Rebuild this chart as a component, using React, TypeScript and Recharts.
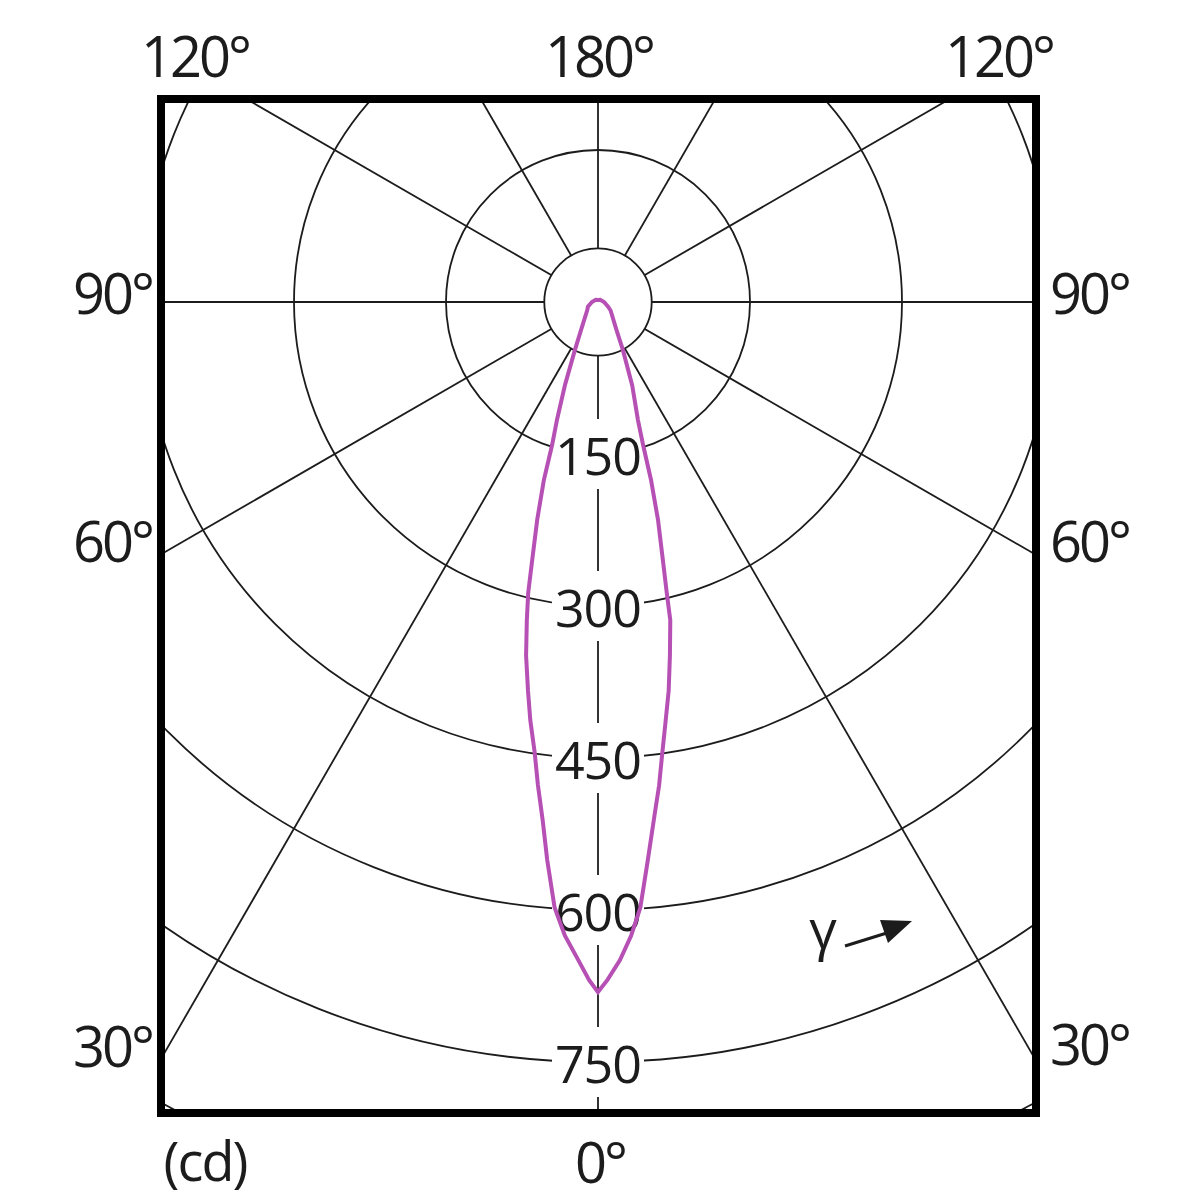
import React from "react"
import { RadarChart, Radar, PolarGrid, PolarAngleAxis, PolarRadiusAxis } from "recharts"

const gammaRight = [0, 0.8, 1.9, 3.0, 4.0, 5.1, 6.3, 7.2, 8.1, 9.2, 10.3, 11.5, 12.8, 13.3, 14.1, 15.4, 16.6, 17.5, 18.7, 22.3, 27.5, 33.5, 56, 65, 90, 135, 180]
const cdRight = [681, 669, 650, 626, 599, 553, 509, 481, 450, 418, 390, 356, 322, 295, 263, 223, 183, 148, 123, 89, 53, 33, 15, 11, 6, 3, 2]
const gammaLeft = [0.76, 1.7, 3.0, 4.1, 5.2, 6.1, 7.1, 8.0, 9.2, 10.2, 11.5, 12.6, 13.5, 14.3, 15.6, 16.9, 17.8, 19.2, 21.7, 25.6, 31.3, 54, 65, 90, 135]
const cdLeft = [669, 650, 626, 599, 553, 514, 480, 449, 418, 390, 356, 322, 295, 263, 223, 184, 148, 123, 88, 53, 32, 13, 11, 6, 3]

const ringValues = [0, 150, 300, 450, 600, 750, 900]
const ringLabels = [150, 300, 450, 600, 750]
const spokeAngles = [0, 30, 60, 90, 120, 150, 180, 210, 240, 270, 300, 330]
const hubValue = 53
const radialMax = 900

const topLabels = ["120°", "180°", "120°"]
const sideLabels = ["90°", "60°", "30°"]
const unitLabel = "(cd)"
const nadirLabel = "0°"
const gammaLabel = "γ"

// angle axis runs 0..360 clockwise from the bottom, left half mirrored
const lobeData = [
  ...gammaRight.map((g, i) => ({ angle: g, cd: cdRight[i] })),
  ...gammaLeft.map((g, i) => ({ angle: 360 - g, cd: cdLeft[i] })).reverse(),
]

const FONT = "'Open Sans', 'Noto Sans', sans-serif"
const INK = "#1c1c1c"
const LOBE = "#b650b4"

// inner area of the framed box
const BOX_W = 867
const BOX_H = 1006
const CX = 433
const CY = 199
const R_MAX = 912

const RadiusTick = (props: any) => {
  const { x, y, payload } = props
  if (!ringLabels.includes(payload.value)) return <g />
  return (
    <g>
      <rect x={x - 46} y={y - 35} width={92} height={70} fill="#fff" />
      <text
        x={x}
        y={y}
        textAnchor="middle"
        dominantBaseline="central"
        fontFamily={FONT}
        fontSize={52}
        letterSpacing={-1}
        fill={INK}
      >
        {payload.value}
      </text>
    </g>
  )
}

function Layer({ children, tick, showLobe }: { children?: React.ReactNode; tick?: any; showLobe?: boolean }) {
  return (
    <div style={{ position: "absolute", left: 0, top: 0 }}>
      <RadarChart
        width={BOX_W}
        height={BOX_H}
        data={lobeData}
        cx={CX}
        cy={CY}
        innerRadius={0}
        outerRadius={R_MAX}
        startAngle={-90}
        endAngle={270}
        margin={{ top: 0, right: 0, bottom: 0, left: 0 }}
      >
        <PolarAngleAxis
          type="number"
          dataKey="angle"
          domain={[0, 360]}
          tickCount={13}
          ticks={spokeAngles}
          tick={false}
          axisLine={false}
          tickLine={false}
        />
        <PolarRadiusAxis
          type="number"
          angle={-90}
          domain={[0, radialMax]}
          tickCount={7}
          ticks={ringValues}
          tick={tick ?? false}
          axisLine={false}
          tickLine={false}
        />
        {children}
        <Radar
          dataKey="cd"
          stroke={showLobe ? LOBE : "none"}
          strokeWidth={4}
          fill="none"
          fillOpacity={0}
          dot={false}
          isAnimationActive={false}
        />
      </RadarChart>
    </div>
  )
}

export default function App() {
  return (
    <div style={{ position: "relative", width: 1187, height: 1200, margin: -8, background: "#fff" }}>
      <div
        style={{
          position: "absolute",
          left: 157,
          top: 95,
          width: 883,
          height: 1022,
          border: "8px solid #000",
          boxSizing: "border-box",
        }}
      >
        <div style={{ position: "relative", width: BOX_W, height: BOX_H, overflow: "hidden" }}>
          <Layer>
            <PolarGrid gridType="circle" stroke={INK} strokeWidth={1.8} />
          </Layer>
          <Layer tick={<RadiusTick />}>
            <circle cx={CX} cy={CY} r={(hubValue * R_MAX) / radialMax} fill="#fff" stroke={INK} strokeWidth={1.8} />
          </Layer>
          <Layer showLobe />
        </div>
      </div>

      <svg
        width={1187}
        height={1200}
        style={{ position: "absolute", left: 0, top: 0, pointerEvents: "none" }}
        fontFamily={FONT}
        fill={INK}
      >
        {topLabels.map((t, i) => (
          <text key={"t" + i} x={[195, 599, 999][i]} y={55} textAnchor="middle" dominantBaseline="central" fontSize={56} letterSpacing={-3}>
            {t}
          </text>
        ))}
        {sideLabels.map((t, i) => (
          <text key={"l" + i} x={152} y={[292, 540, 1045][i]} textAnchor="end" dominantBaseline="central" fontSize={56} letterSpacing={-3}>
            {t}
          </text>
        ))}
        {sideLabels.map((t, i) => (
          <text key={"r" + i} x={1050} y={[292, 540, 1043][i]} textAnchor="start" dominantBaseline="central" fontSize={56} letterSpacing={-3}>
            {t}
          </text>
        ))}
        <text x={205} y={1160} textAnchor="middle" dominantBaseline="central" fontSize={54} letterSpacing={-2}>
          {unitLabel}
        </text>
        <text x={600} y={1161} textAnchor="middle" dominantBaseline="central" fontSize={56} letterSpacing={-3}>
          {nadirLabel}
        </text>

        <text x={823} y={949} textAnchor="middle" fontSize={54}>
          {gammaLabel}
        </text>
        <line x1={845} y1={946} x2={890} y2={932} stroke={INK} strokeWidth={3} />
        <polygon points="912,921 880,920 888,943" fill={INK} />
      </svg>
    </div>
  )
}
